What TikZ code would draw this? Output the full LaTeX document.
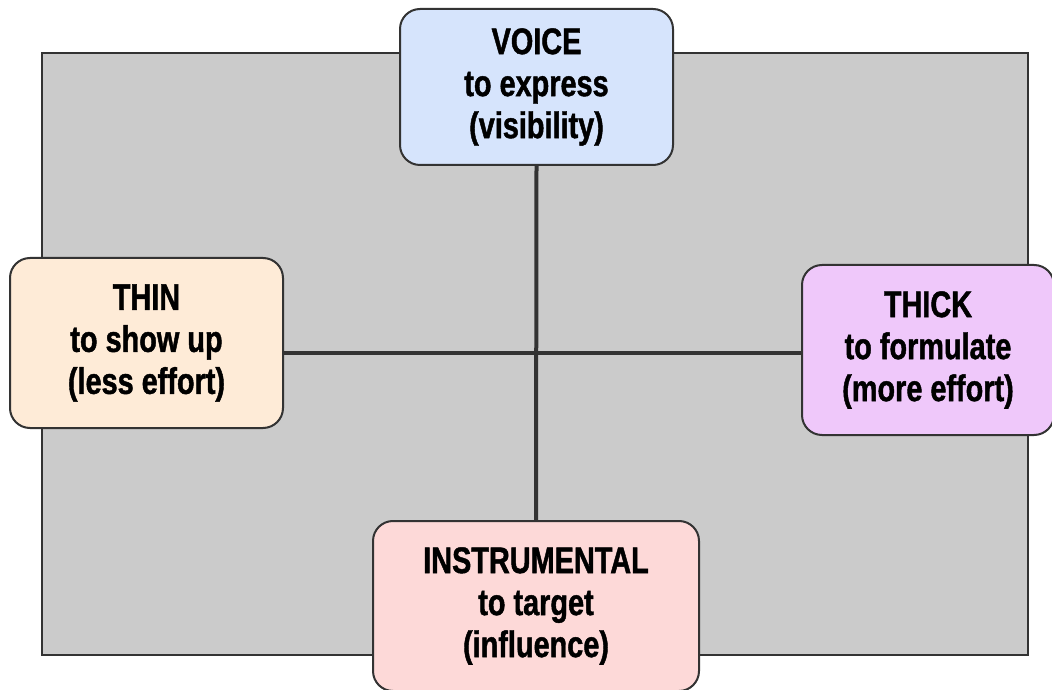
\documentclass[tikz,border=0pt]{standalone}
\usepackage{fontspec}
\setmainfont{Liberation Sans}[FakeStretch=0.78, BoldFeatures={FakeBold=1.2}]
\definecolor{bggray}{HTML}{CBCBCB}
\definecolor{edge}{HTML}{333333}
\definecolor{voicefill}{HTML}{D6E4FC}
\definecolor{thinfill}{HTML}{FEEBD7}
\definecolor{thickfill}{HTML}{EFC8FA}
\definecolor{instrfill}{HTML}{FDD9D8}
\tikzset{
  card/.style={draw=edge, line width=2pt, rounded corners=20pt, align=center,
    inner sep=0pt, font=\fontsize{37}{42}\selectfont\bfseries},
  axis/.style={draw=edge, line width=4pt}
}
\begin{document}
\begin{tikzpicture}[x=1pt,y=1pt]
\useasboundingbox (0,0) rectangle (1052,689);
\fill[white] (0,0) rectangle (1052,689);
\node[draw=edge, line width=2.5pt, fill=bggray, minimum width=986pt, minimum height=602pt, inner sep=0pt] (bg) at (535,335) {};
\coordinate (c) at (536,336);
\node[card, fill=voicefill, minimum width=273pt, minimum height=156pt] (voice) at (536.5,602) {VOICE\\to express\\(visibility)};
\node[card, fill=thinfill, minimum width=273pt, minimum height=170pt] (thin) at (146.5,346) {THIN\\to show up\\(less effort)};
\node[card, fill=thickfill, minimum width=252pt, minimum height=170pt] (thick) at (928,339) {THICK\\to formulate\\(more effort)};
\node[card, fill=instrfill, minimum width=326pt, minimum height=170pt] (instr) at (536,83) {INSTRUMENTAL\\to target\\(influence)};
\draw[axis] (voice.south) -- (instr.north);
\draw[axis] (thin.east |- c) -- (thick.west |- c);
\end{tikzpicture}
\end{document}
